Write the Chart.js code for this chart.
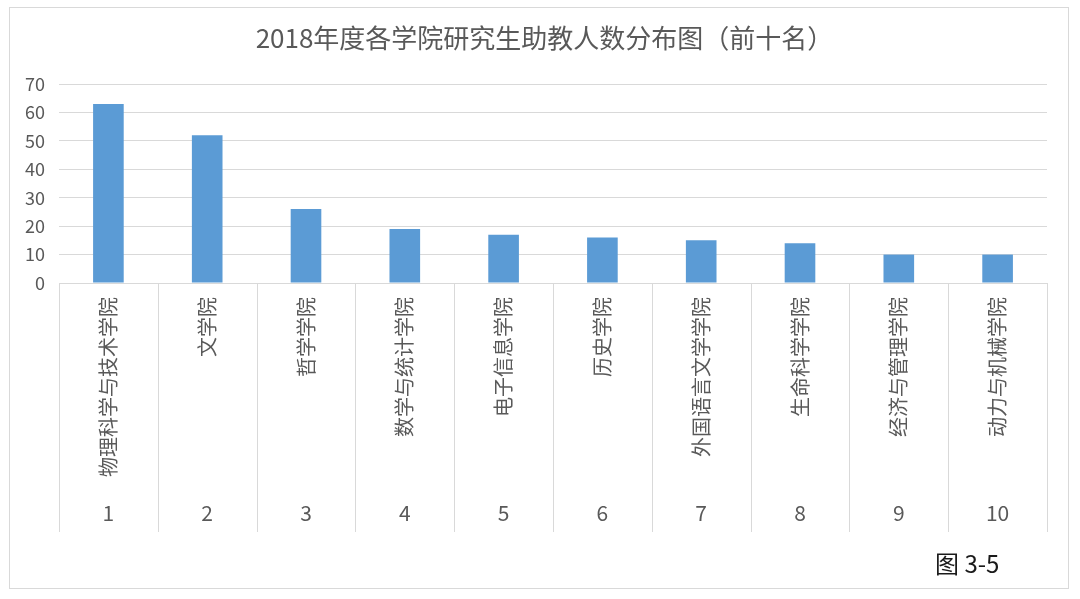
<!DOCTYPE html>
<html>
<head>
<meta charset="utf-8">
<script src="https://cdn.jsdelivr.net/npm/chart.js@4"></script>
<style>
html,body{margin:0;padding:0;background:#fff;}
canvas{display:block;}
</style>
</head>
<body>
<canvas id="c" width="1080" height="599"></canvas>
<script>
const titleText = '2018年度各学院研究生助教人数分布图（前十名）';
const colleges = ['物理科学与技术学院','文学院','哲学学院','数学与统计学院','电子信息学院','历史学院','外国语言文学学院','生命科学学院','经济与管理学院','动力与机械学院'];
const ranks = ['1','2','3','4','5','6','7','8','9','10'];
const counts = [63, 52, 26, 19, 17, 16, 15, 14, 10, 10];
const yTicksMax = 70;
const yTickStep = 10;
const figureLabel = '图 3-5';

const FONT = "'Noto Sans CJK SC', 'Noto Sans', sans-serif";
const GRID = '#d9d9d9';
const TEXT = '#595959';

const framePlugin = {
  id: 'frame',
  afterLayout(chart) {
    // nudge the title box slightly right, as in the reference
    if (chart.titleBlock) {
      chart.titleBlock.left += 14;
      chart.titleBlock.right += 14;
    }
  },
  beforeDraw(chart) {
    const ctx = chart.ctx;
    ctx.save();
    ctx.fillStyle = '#fff';
    ctx.fillRect(0, 0, chart.width, chart.height);
    ctx.strokeStyle = GRID;
    ctx.lineWidth = 1;
    ctx.strokeRect(9.5, 7.5, 1059, 581);
    ctx.restore();
  },
  afterDraw(chart) {
    const ctx = chart.ctx;
    const xs = chart.scales.x;
    const x2 = chart.scales.x2;
    const n = colleges.length;
    const w = (xs.right - xs.left) / n;
    ctx.save();
    ctx.strokeStyle = GRID;
    ctx.lineWidth = 1;
    ctx.beginPath();
    for (let i = 0; i <= n; i++) {
      const x = Math.round(xs.left + i * w) + 0.5;
      ctx.moveTo(x, xs.top);
      ctx.lineTo(x, x2.bottom + 1);
    }
    ctx.stroke();
    ctx.fillStyle = '#1a1a1a';
    ctx.font = "24px " + FONT;
    ctx.textAlign = 'left';
    ctx.textBaseline = 'middle';
    ctx.fillText(figureLabel, 935, 564);
    ctx.restore();
  }
};

new Chart(document.getElementById('c'), {
  type: 'bar',
  data: {
    labels: colleges,
    datasets: [{
      data: counts,
      backgroundColor: '#5b9bd5',
      borderWidth: 0,
      categoryPercentage: 1,
      barPercentage: 0.31,
      xAxisID: 'x',
      yAxisID: 'y'
    }]
  },
  options: {
    responsive: false,
    animation: false,
    devicePixelRatio: 1,
    layout: { padding: { left: 14, right: 33, top: 10, bottom: 68 } },
    plugins: {
      legend: { display: false },
      tooltip: { enabled: false },
      title: {
        display: true,
        text: titleText,
        color: TEXT,
        font: { family: FONT, size: 26, weight: 'normal', lineHeight: 1.2 },
        padding: { top: 12.9, bottom: 29.9 }
      }
    },
    scales: {
      y: {
        min: 0,
        max: yTicksMax,
        ticks: { stepSize: yTickStep, color: TEXT, padding: 14, font: { family: FONT, size: 18 } },
        grid: { color: GRID, drawTicks: false },
        border: { display: false },
        afterFit(s) { s.width = 45; }
      },
      x: {
        type: 'category',
        position: 'bottom',
        weight: 0,
        offset: true,
        grid: { display: false, drawTicks: false },
        border: { display: true, color: GRID },
        ticks: {
          autoSkip: false,
          minRotation: 90,
          maxRotation: 90,
          padding: 14,
          color: TEXT,
          font: { family: FONT, size: 20 }
        },
        afterFit(s) { s.height = 216; }
      },
      x2: {
        type: 'category',
        position: 'bottom',
        weight: 1,
        labels: ranks,
        offset: true,
        grid: { display: false, drawTicks: false },
        border: { display: false },
        ticks: {
          autoSkip: false,
          maxRotation: 0,
          padding: 1.4,
          color: TEXT,
          font: { family: FONT, size: 21 }
        },
        afterFit(s) { s.height = 32; }
      }
    }
  },
  plugins: [framePlugin]
});
</script>
</body>
</html>
